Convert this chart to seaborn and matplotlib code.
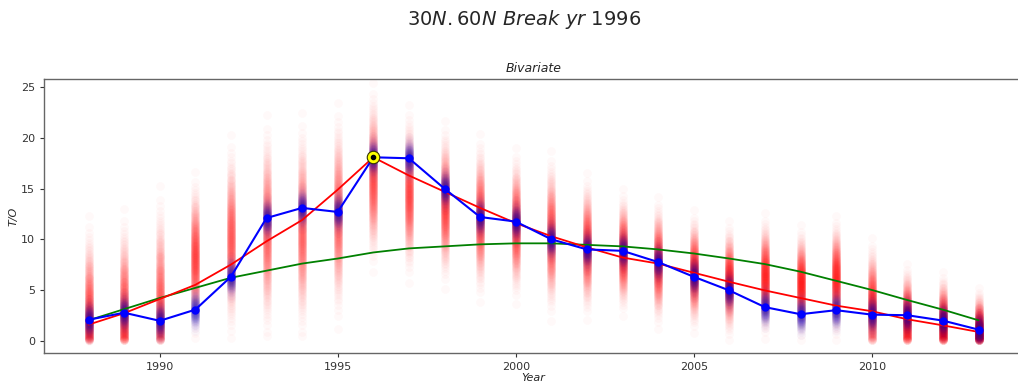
import numpy as np
import pandas as pd
import matplotlib
matplotlib.use("Agg")
import matplotlib.pyplot as plt
import seaborn as sns
from statistics import NormalDist

years = list(range(1988, 2014))

# observed mean T/O per year (blue line)
blue_mean = [2.05, 2.75, 1.95, 3.05, 6.3, 12.1, 13.1, 12.7, 18.1, 18.0, 15.0, 12.2, 11.75,
             10.0, 9.0, 8.86, 7.75, 6.3, 4.95, 3.3, 2.6, 3.0, 2.56, 2.5, 1.97, 1.08]
# bivariate break fit (red line)
red_fit = [1.57, 2.7, 4.1, 5.5, 7.5, 9.8, 11.9, 14.9, 18.1, 16.3, 14.7, 13.1, 11.6,
           10.3, 9.2, 8.2, 7.6, 6.7, 5.8, 4.95, 4.2, 3.45, 2.9, 2.1, 1.5, 0.85]
# smooth fit (green line)
green_fit = [2.0, 3.1, 4.2, 5.2, 6.2, 6.9, 7.6, 8.1, 8.7, 9.1, 9.3, 9.5, 9.6,
             9.6, 9.45, 9.3, 9.0, 8.6, 8.1, 7.55, 6.8, 5.9, 5.0, 4.0, 3.05, 2.0]
# predictive sample cloud (red points): centre and spread per year
cloud_center = [2.5, 3.0, 3.5, 8.2, 10.0, 10.9, 11.0, 12.3, 16.1, 14.5, 13.4, 12.1, 11.35,
                10.35, 9.3, 8.7, 7.65, 6.8, 5.9, 6.35, 5.65, 6.15, 3.5, 2.3, 1.8, 1.0]
cloud_sd = [3.25, 3.3, 3.9, 2.8, 3.4, 3.75, 3.8, 3.7, 3.1, 2.9, 2.75, 2.75, 2.55,
            2.77, 2.4, 2.07, 2.16, 2.0, 1.96, 2.05, 1.9, 2.05, 2.2, 1.75, 1.65, 1.4]
mean_sd = 0.8
break_year = 1996
break_value = 18.1

n_red, n_blue = 400, 110

def quantile_points(mu, sd, n):
    d = NormalDist(mu, sd)
    return [abs(d.inv_cdf((i + 0.5) / n)) for i in range(n)]

red_rows, blue_rows = [], []
for yr, c, s, m in zip(years, cloud_center, cloud_sd, blue_mean):
    for v in quantile_points(c, s, n_red):
        red_rows.append((yr, v))
    for v in quantile_points(m, mean_sd, n_blue):
        blue_rows.append((yr, v))
red_df = pd.DataFrame(red_rows, columns=["Year", "T/O"])
blue_df = pd.DataFrame(blue_rows, columns=["Year", "T/O"])
lines_df = pd.DataFrame({"Year": years, "mean": blue_mean, "red": red_fit, "green": green_fit})

sns.set_style("ticks")
plt.rcParams['font.family'] = ['DejaVu Sans']

fig = plt.figure(figsize=(10.18, 3.83), dpi=100)
ax = fig.add_axes([44 / 1018, 30 / 383, 979 / 1018, 274 / 383])

sns.scatterplot(data=red_df, x="Year", y="T/O", color="red", alpha=0.022, s=40,
                linewidth=0, ax=ax, legend=False)
sns.scatterplot(data=blue_df, x="Year", y="T/O", color="#0000cc", alpha=0.022, s=40,
                linewidth=0, ax=ax, legend=False)
sns.lineplot(data=lines_df, x="Year", y="green", color="green", lw=1.3, ax=ax)
sns.lineplot(data=lines_df, x="Year", y="red", color="red", lw=1.3, ax=ax)
sns.lineplot(data=lines_df, x="Year", y="mean", color="blue", lw=1.5, marker="o",
             markersize=6, markeredgewidth=0, ax=ax)
ax.plot([break_year], [break_value], "o", color="yellow", markersize=9,
        markeredgecolor="#333300", markeredgewidth=0.8)
ax.plot([break_year], [break_value], "o", color="black", markersize=3)

ax.set_xlim(1986.75, 2014.25)
ax.set_ylim(-1.23, 25.83)
ax.set_xticks([1990, 1995, 2000, 2005, 2010])
ax.set_yticks([0, 5, 10, 15, 20, 25])
ax.tick_params(labelsize=8, length=3, width=0.8, colors="#333333")
for sp in ax.spines.values():
    sp.set_color("#666666")
    sp.set_linewidth(1.0)
ax.set_xlabel("Year", fontsize=8, style="italic", labelpad=1)
ax.set_ylabel("T/O", fontsize=8, style="italic", labelpad=2)
ax.set_title("Bivariate", fontsize=9, style="italic", pad=5)
fig.suptitle(r"$30N.60N\ Break\ yr$ 1996", fontsize=14, x=0.515, y=0.98)

fig.savefig("out.png", dpi=100)
